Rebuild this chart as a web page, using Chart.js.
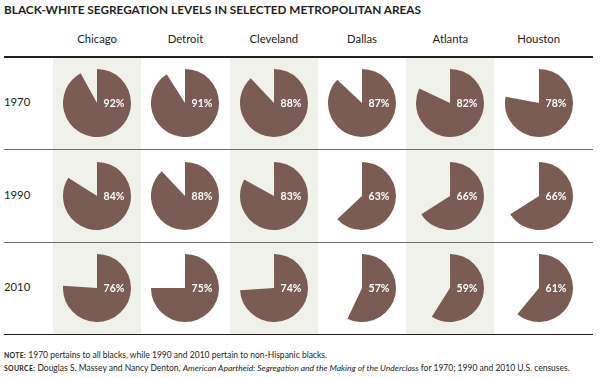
<!DOCTYPE html>
<html>
<head>
<meta charset="utf-8">
<script src="https://cdn.jsdelivr.net/npm/chart.js@4.4.1/dist/chart.umd.min.js"></script>
<style>
  html, body { margin: 0; padding: 0; background: #fff; }
  body { width: 600px; height: 378px; position: relative; overflow: hidden; font-family: Lato, "Open Sans", sans-serif; color: #231f20; }
  .abs { position: absolute; }
  #title { left: 4px; top: 2px; font-weight: 700; font-size: 11.8px; letter-spacing: 0; white-space: nowrap; }
  .hdr { top: 32px; width: 88px; text-align: center; font-size: 11.3px; white-space: nowrap; }
  .band { top: 57px; height: 277px; background: #f1f1ec; }
  .line { left: 4px; width: 589px; }
  .row { left: 4px; font-size: 11.3px; }
  .pie { width: 68px; height: 68px; }
  .note { left: 4px; font-size: 8.5px; white-space: nowrap; color: #231f20; }
  .note b { font-size: 6.9px; letter-spacing: 0.3px; }
</style>
</head>
<body>
<div id="title" class="abs">BLACK-WHITE SEGREGATION LEVELS IN SELECTED METROPOLITAN AREAS</div>
<div id="grid"></div>
<div class="abs note" style="top:350px;"><b>NOTE:</b> 1970 pertains to all blacks, while 1990 and 2010 pertain to non-Hispanic blacks.</div>
<div class="abs note" style="top:363px;"><b>SOURCE:</b> Douglas S. Massey and Nancy Denton, <i>American Apartheid: Segregation and the Making of the Underclass</i> for 1970; 1990 and 2010 U.S. censuses.</div>
<script>
const cities = ['Chicago', 'Detroit', 'Cleveland', 'Dallas', 'Atlanta', 'Houston'];
const years = ['1970', '1990', '2010'];
const values1970 = [92, 91, 88, 87, 82, 78];
const values1990 = [84, 88, 83, 63, 66, 66];
const values2010 = [76, 75, 74, 57, 59, 61];
const seriesByYear = [values1970, values1990, values2010];

const colX0 = 53, colW = 88.3;
const rowY = [103, 195.5, 288];
const grid = document.getElementById('grid');

// column bands
cities.forEach((c, i) => {
  if (i % 2 === 0) {
    const b = document.createElement('div');
    b.className = 'abs band';
    b.style.left = (colX0 + i * colW) + 'px';
    b.style.width = colW + 'px';
    grid.appendChild(b);
  }
  const h = document.createElement('div');
  h.className = 'abs hdr';
  h.textContent = c;
  h.style.left = (colX0 + i * colW + colW / 2 - 44) + 'px';
  grid.appendChild(h);
});

// horizontal rules
[[56, 1.5, '#231f20'], [148.5, 1.2, '#6d6d6d'], [241.5, 1.2, '#6d6d6d'], [333.5, 1.5, '#231f20']].forEach(([y, t, col]) => {
  const l = document.createElement('div');
  l.className = 'abs line';
  l.style.top = y + 'px';
  l.style.height = t + 'px';
  l.style.background = col;
  grid.appendChild(l);
});

const labelPlugin = {
  id: 'pctLabel',
  afterDatasetsDraw(chart) {
    const arc = chart.getDatasetMeta(0).data[0];
    const ctx = chart.ctx;
    ctx.save();
    ctx.fillStyle = '#ffffff';
    ctx.font = 'bold 10.5px Lato, "Open Sans", sans-serif';
    ctx.textAlign = 'center';
    ctx.textBaseline = 'middle';
    ctx.fillText(chart.data.datasets[0].data[0] + '%', arc.x + 17, arc.y + 0.5);
    ctx.restore();
  }
};

years.forEach((yr, r) => {
  const lab = document.createElement('div');
  lab.className = 'abs row';
  lab.textContent = yr;
  lab.style.top = (rowY[r] - 8) + 'px';
  grid.appendChild(lab);

  seriesByYear[r].forEach((v, i) => {
    const cx = colX0 + i * colW + colW / 2;
    const wrap = document.createElement('div');
    wrap.className = 'abs pie';
    wrap.style.left = (cx - 34) + 'px';
    wrap.style.top = (rowY[r] - 34) + 'px';
    const cv = document.createElement('canvas');
    cv.width = 68; cv.height = 68;
    wrap.appendChild(cv);
    grid.appendChild(wrap);
    new Chart(cv, {
      type: 'pie',
      data: {
        labels: ['Segregation', 'Rest'],
        datasets: [{
          data: [v, 100 - v],
          backgroundColor: ['#7a5c55', 'rgba(0,0,0,0)'],
          borderWidth: 0
        }]
      },
      options: {
        responsive: false,
        animation: false,
        layout: { padding: 0 },
        plugins: { legend: { display: false }, tooltip: { enabled: false } },
        events: []
      },
      plugins: [labelPlugin]
    });
  });
});
</script>
</body>
</html>
